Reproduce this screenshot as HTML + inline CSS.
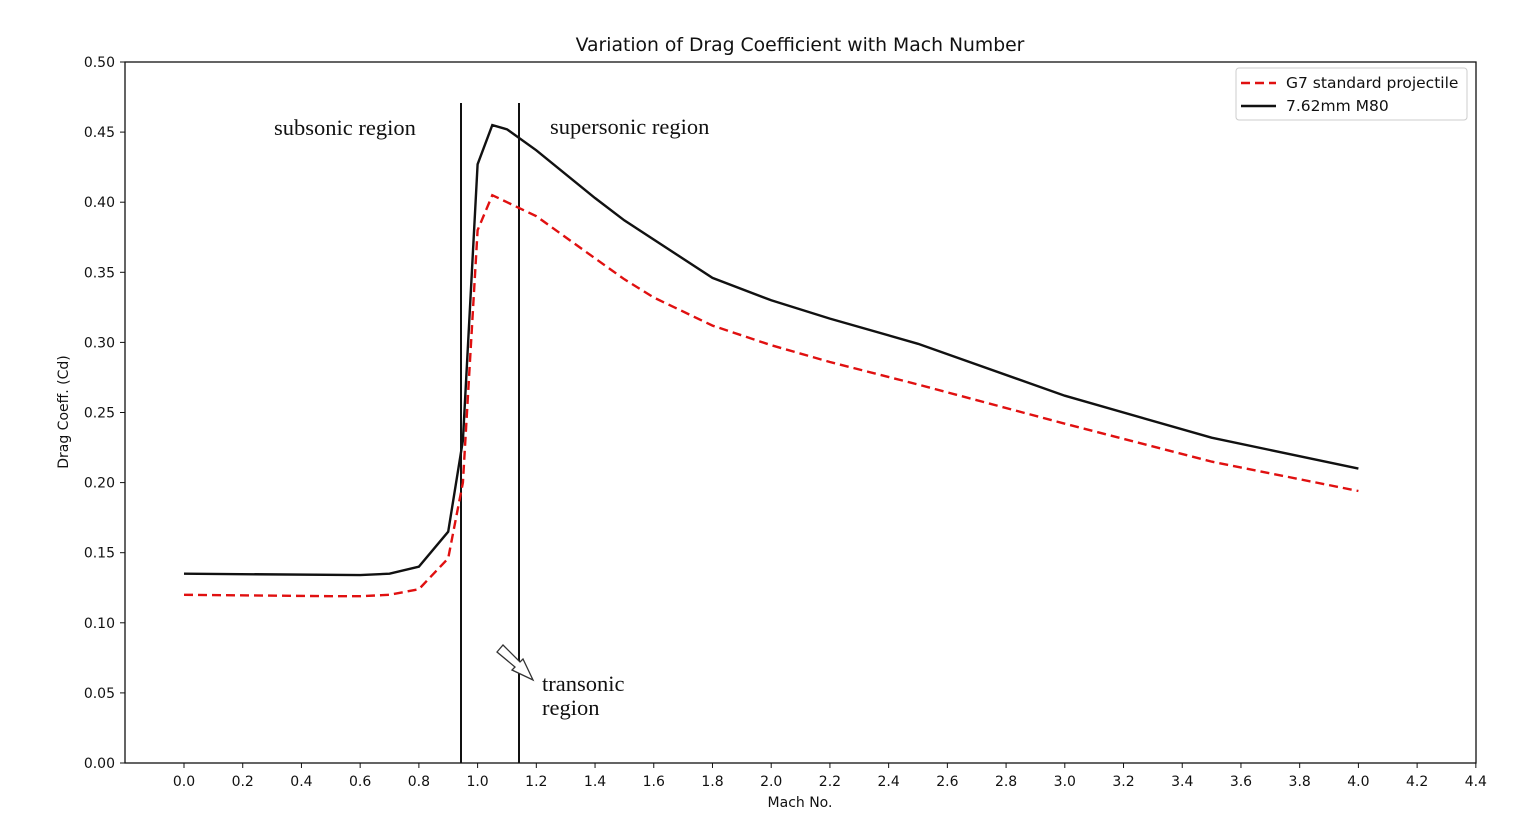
<!DOCTYPE html>
<html><head><meta charset="utf-8">
<style>
html,body{margin:0;padding:0;background:#fff;}
svg{display:block;font-family:"DejaVu Sans","Liberation Sans",sans-serif;}
.serif{font-family:"Liberation Serif",serif;font-size:22.5px;fill:#111;}
</style></head>
<body>
<svg id="s" width="1525" height="827" viewBox="0 0 1525 827" xmlns="http://www.w3.org/2000/svg">
<rect width="1525" height="827" fill="#fff"/>
<text x="800" y="51" font-size="18.8" text-anchor="middle" fill="#111">Variation of Drag Coefficient with Mach Number</text>
<rect x="125" y="62" width="1351" height="701" fill="none" stroke="#111" stroke-width="1.3"/>
<g id="ticks" font-size="14" fill="#111"></g>
<text x="800" y="807" font-size="14" text-anchor="middle" fill="#111">Mach No.</text>
<text transform="translate(68,412) rotate(-90)" font-size="14" text-anchor="middle" fill="#111">Drag Coeff. (Cd)</text>
<line x1="461" y1="103" x2="461" y2="763" stroke="#111" stroke-width="2"/>
<line x1="519" y1="103" x2="519" y2="763" stroke="#111" stroke-width="2"/>
<polyline id="red" fill="none" stroke="#e01010" stroke-width="2.4" stroke-dasharray="9,5"/>
<polyline id="blk" fill="none" stroke="#111" stroke-width="2.4"/>
<text class="serif" x="274" y="135">subsonic region</text>
<text class="serif" x="550" y="134">supersonic region</text>
<text class="serif" x="542" y="691">transonic</text>
<text class="serif" x="542" y="715">region</text>
<polygon points="497,652 503,645 520,662 523,659 533,680 512,670 515,667" fill="#fff" stroke="#333" stroke-width="1.3"/>
<rect x="1236" y="68" width="231" height="52" fill="#fff" stroke="#ccc" stroke-width="1" rx="3"/>
<line x1="1241" y1="83" x2="1276" y2="83" stroke="#e01010" stroke-width="2.4" stroke-dasharray="9,5"/>
<text x="1286" y="88" font-size="15.5" fill="#111">G7 standard projectile</text>
<line x1="1241" y1="106" x2="1276" y2="106" stroke="#111" stroke-width="2.4"/>
<text x="1286" y="111" font-size="15.5" fill="#111">7.62mm M80</text>
</svg>
<script>
var X=function(m){return 184+m*293.6;}, Y=function(c){return 763-c*1402;};
var g=document.getElementById('ticks'),h='';
for(var i=0;i<=22;i++){var m=i*0.2,x=X(m);h+='<line x1="'+x+'" y1="763" x2="'+x+'" y2="768" stroke="#111"/><text x="'+x+'" y="786" text-anchor="middle">'+m.toFixed(1)+'</text>';}
for(var j=0;j<=10;j++){var c=j*0.05,y=Y(c);h+='<line x1="120" y1="'+y+'" x2="125" y2="'+y+'" stroke="#111"/><text x="115" y="'+(y+5)+'" text-anchor="end">'+c.toFixed(2)+'</text>';}
g.innerHTML=h;
function pts(a){return a.map(function(p){return X(p[0]).toFixed(1)+','+Y(p[1]).toFixed(1);}).join(' ');}
document.getElementById('blk').setAttribute('points',pts([[0,0.135],[0.6,0.134],[0.7,0.135],[0.8,0.14],[0.9,0.165],[0.95,0.23],[1.0,0.427],[1.05,0.455],[1.1,0.452],[1.2,0.437],[1.4,0.403],[1.5,0.387],[1.8,0.346],[2.0,0.33],[2.2,0.317],[2.5,0.299],[3.0,0.262],[3.5,0.232],[4.0,0.21]]));
document.getElementById('red').setAttribute('points',pts([[0,0.12],[0.5,0.119],[0.6,0.119],[0.7,0.12],[0.8,0.124],[0.9,0.146],[0.95,0.2],[1.0,0.38],[1.05,0.405],[1.1,0.4],[1.2,0.39],[1.4,0.36],[1.5,0.345],[1.6,0.332],[1.8,0.312],[2.0,0.298],[2.2,0.286],[2.5,0.27],[3.0,0.242],[3.5,0.215],[4.0,0.194]]));
</script>
</body></html>
